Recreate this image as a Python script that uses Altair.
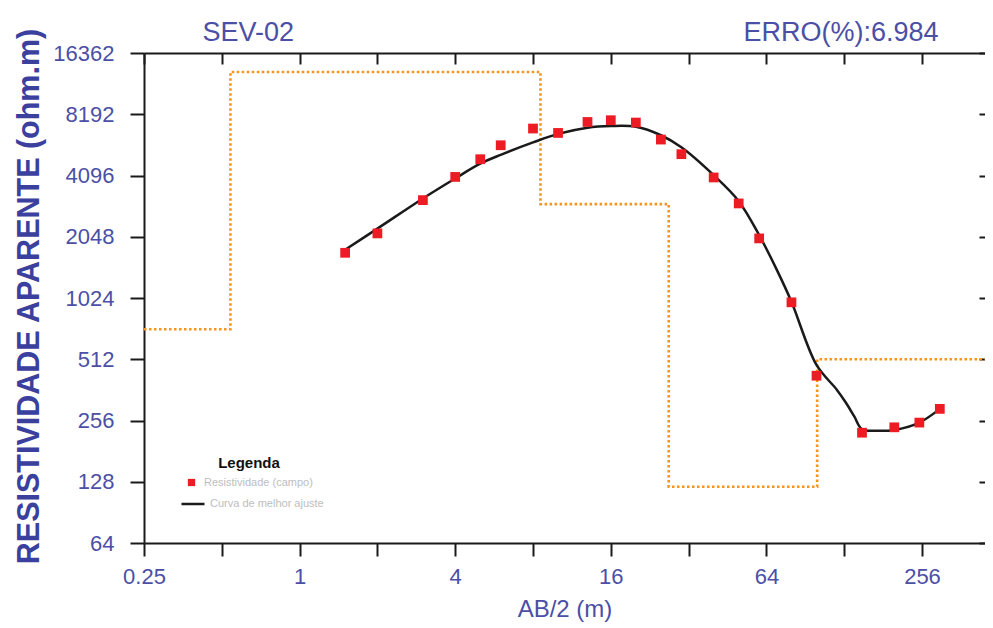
import json
import altair as alt
import pandas as pd

# ---- field data (red squares) ----
ab2_campo = [1.5, 2, 3, 4, 5, 6, 8, 10, 13, 16, 20, 25, 30, 40, 50, 60, 80, 100, 150, 200, 250, 300]
rho_campo = [1708, 2127, 3100, 4031, 4925, 5768, 6970, 6631, 7507, 7655, 7458, 6152, 5214, 4006,
             2986, 2010, 975, 425, 223, 237, 250, 292]

# ---- best-fit curve (black line) ----
ab2_curva = [1.5, 2, 3, 4, 5, 6, 8, 10, 13, 16, 20, 25, 30, 40, 50, 60, 70, 80, 100, 120, 130,
             140, 150, 170, 200, 250, 300]
rho_curva = [1769, 2246, 3159, 3960, 4680, 5178, 5957, 6558, 7040, 7168, 7110, 6460, 5636, 4110,
             3064, 2087, 1420, 982, 480, 362, 313, 268, 232, 228, 230, 250, 292]

# ---- layered model (orange dotted steps) ----
ab2_modelo = [0.25, 0.54, 8.55, 26.8, 100.6, 512]
rho_modelo = [719, 13217, 2963, 121, 512, 512]

# ---- ticks / texts ----
x_ticks = [0.25, 0.5, 1, 2, 4, 8, 16, 32, 64, 128, 256]
x_labels = [0.25, 1, 4, 16, 64, 256]
y_ticks = [64, 128, 256, 512, 1024, 2048, 4096, 8192, 16362]

titulo = "SEV-02"
erro = "ERRO(%):6.984"
x_title = "AB/2 (m)"
y_title = "RESISTIVIDADE APARENTE (ohm.m)"
leg_titulo = "Legenda"
leg_campo = "Resistividade (campo)"
leg_curva = "Curva de melhor ajuste"

W, H = 841, 490
FONT = "Liberation Sans, Arial, Helvetica, sans-serif"
BLUE = "#4b4fa6"
TITLE_BLUE = "#3b3f9e"
AXIS = "#1a1a1a"

df_campo = pd.DataFrame({"ab2": ab2_campo, "rho": rho_campo, "serie": leg_campo})
df_curva = pd.DataFrame({"ab2": ab2_curva, "rho": rho_curva, "serie": leg_curva})
df_modelo = pd.DataFrame({"ab2": ab2_modelo, "rho": rho_modelo})

xscale = alt.Scale(type="log", base=2, domain=[0.25, 448.7], nice=False)
yscale = alt.Scale(type="log", base=2, domain=[64, 16384], nice=False)

label_expr = ("indexof(" + json.dumps(x_labels) +
              ", datum.value) >= 0 ? format(datum.value, '~g') : ''")

common = dict(grid=False, tickWidth=2, tickColor=AXIS, domainColor=AXIS, domainWidth=2,
              labelFont=FONT, labelColor=BLUE, titleFont=FONT, titleColor=BLUE)

x_axis = alt.Axis(orient="bottom", values=x_ticks, labelExpr=label_expr, tickSize=13,
                  labelFontSize=22, labelPadding=10, labelFlush=False, labelOverlap=False,
                  title=x_title, titleFontSize=24, titleFontWeight="normal",
                  titleY=73, titleBaseline="alphabetic", **common)

y_axis = alt.Axis(orient="left", values=y_ticks, format="~g", tickSize=14,
                  labelFontSize=22, labelPadding=16, labelOverlap=False,
                  title=y_title, titleFontSize=30.5, titleFontWeight="bold",
                  titleX=-106, titleY=243, titleAngle=270, titleBaseline="alphabetic",
                  **{**common, "titleColor": TITLE_BLUE})

top_axis = alt.Axis(orient="bottom", offset=-H, values=x_ticks, labels=False, tickSize=11,
                    title=titulo, titleX=58, titleY=-13, titleAlign="left", titleAngle=0,
                    titleBaseline="alphabetic", titleFontSize=27, titleFontWeight="normal",
                    **common)

right_axis = alt.Axis(orient="left", offset=-W, values=y_ticks, labels=False, domain=False,
                      tickSize=6, title=erro, titleX=-47, titleY=-13, titleAlign="right",
                      titleAngle=0, titleBaseline="alphabetic", titleFontSize=27,
                      titleFontWeight="normal", **common)

modelo = alt.Chart(df_modelo).mark_line(
    interpolate="step-after", color="#f7941d", strokeWidth=2.6, strokeDash=[2.5, 2.5], clip=True
).encode(
    x=alt.X("ab2:Q", scale=xscale, axis=x_axis),
    y=alt.Y("rho:Q", scale=yscale, axis=y_axis),
)

curva = alt.Chart(df_curva).mark_line(interpolate="catmull-rom", strokeWidth=2.5).encode(
    x=alt.X("ab2:Q", scale=xscale, axis=top_axis),
    y=alt.Y("rho:Q", scale=yscale, axis=right_axis),
    stroke=alt.Stroke("serie:N", scale=alt.Scale(domain=[leg_curva], range=[AXIS]),
                      legend=alt.Legend(title=None, orient="none", legendX=36, legendY=438,
                                        symbolType="stroke", symbolSize=529,
                                        symbolStrokeWidth=2.5, labelOffset=4, padding=0,
                                        labelFont=FONT, labelFontSize=11,
                                        labelColor="#bdbdbd")),
)

campo = alt.Chart(df_campo).mark_square(size=95, opacity=1, color="#ed1c24").encode(
    x=alt.X("ab2:Q", scale=xscale, axis=None),
    y=alt.Y("rho:Q", scale=yscale, axis=None),
    color=alt.Color("serie:N", scale=alt.Scale(domain=[leg_campo], range=["#ed1c24"]),
                    legend=alt.Legend(title=leg_titulo, orient="none", legendX=42, legendY=403,
                                      symbolType="square", symbolSize=53, symbolOpacity=1,
                                      symbolStrokeWidth=0, titleAnchor="middle",
                                      titleFont=FONT, titleFontSize=15,
                                      titleFontWeight="bold", titleColor="#111111",
                                      titlePadding=6, labelFont=FONT, labelFontSize=11,
                                      labelColor="#bdbdbd", labelOffset=7, padding=0)),
)

chart = alt.layer(modelo, curva, campo).resolve_axis(
    x="independent", y="independent"
).properties(
    width=W, height=H,
    padding={"left": 136, "top": 45, "right": 0, "bottom": 82},
    autosize=alt.AutoSizeParams(type="none"),
    background="white",
).configure_view(stroke=None)

chart.save("out.html", embed_options={"renderer": "svg", "actions": False})
